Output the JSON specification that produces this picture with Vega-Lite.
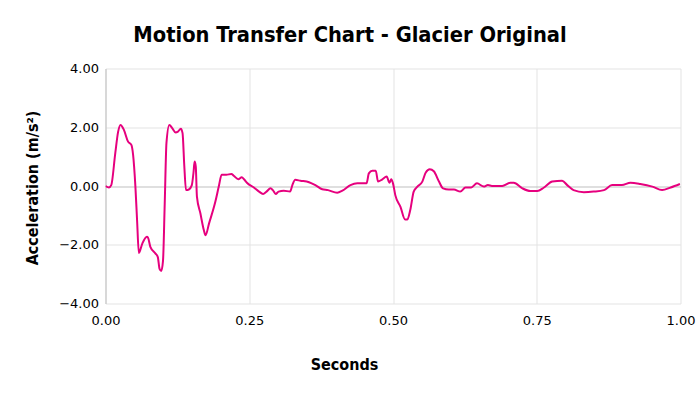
{
  "$schema": "https://vega.github.io/schema/vega-lite/v6.json",
  "width": 575,
  "height": 235,
  "autosize": {"type": "none"},
  "padding": {"left": 105.5, "top": 68.5, "right": 19.5, "bottom": 90.5},
  "background": "white",
  "title": {
    "text": "Motion Transfer Chart - Glacier Original",
    "font": "DejaVu Sans Condensed",
    "fontSize": 21.7,
    "fontWeight": "bold",
    "color": "#000000",
    "anchor": "middle",
    "dx": -43,
    "offset": 16
  },
  "config": {
    "view": {"stroke": null},
    "axis": {
      "labelFont": "DejaVu Sans",
      "labelFontSize": 13,
      "labelColor": "#000000",
      "titleFont": "DejaVu Sans Condensed",
      "titleFontSize": 16,
      "titleFontWeight": "bold",
      "titleColor": "#000000",
      "ticks": false,
      "gridColor": "#e3e3e3",
      "gridWidth": 1
    }
  },
  "data": {
    "values": [
      {"t": 0.000, "a": 0.00},
      {"t": 0.006, "a": -0.05},
      {"t": 0.010, "a": 0.03},
      {"t": 0.017, "a": 1.12},
      {"t": 0.022, "a": 1.85},
      {"t": 0.026, "a": 2.08},
      {"t": 0.032, "a": 1.91},
      {"t": 0.039, "a": 1.52},
      {"t": 0.045, "a": 1.40},
      {"t": 0.048, "a": 1.06},
      {"t": 0.052, "a": -0.02},
      {"t": 0.055, "a": -1.2},
      {"t": 0.058, "a": -2.28},
      {"t": 0.064, "a": -1.96},
      {"t": 0.072, "a": -1.73},
      {"t": 0.074, "a": -1.76},
      {"t": 0.078, "a": -2.07},
      {"t": 0.087, "a": -2.30},
      {"t": 0.091, "a": -2.42},
      {"t": 0.094, "a": -2.82},
      {"t": 0.097, "a": -2.89},
      {"t": 0.100, "a": -2.55},
      {"t": 0.103, "a": -0.6},
      {"t": 0.106, "a": 1.46},
      {"t": 0.111, "a": 2.08},
      {"t": 0.116, "a": 1.97},
      {"t": 0.122, "a": 1.82},
      {"t": 0.126, "a": 1.85},
      {"t": 0.131, "a": 1.95},
      {"t": 0.134, "a": 1.80},
      {"t": 0.137, "a": 0.7},
      {"t": 0.140, "a": -0.14},
      {"t": 0.145, "a": -0.12},
      {"t": 0.150, "a": 0.02},
      {"t": 0.153, "a": 0.45},
      {"t": 0.155, "a": 0.83},
      {"t": 0.157, "a": 0.66},
      {"t": 0.159, "a": -0.36},
      {"t": 0.165, "a": -0.93},
      {"t": 0.171, "a": -1.5},
      {"t": 0.174, "a": -1.68},
      {"t": 0.180, "a": -1.28},
      {"t": 0.191, "a": -0.54},
      {"t": 0.197, "a": -0.02},
      {"t": 0.202, "a": 0.38},
      {"t": 0.210, "a": 0.38},
      {"t": 0.219, "a": 0.41},
      {"t": 0.223, "a": 0.35},
      {"t": 0.231, "a": 0.23},
      {"t": 0.237, "a": 0.30},
      {"t": 0.241, "a": 0.23},
      {"t": 0.246, "a": 0.11},
      {"t": 0.258, "a": -0.05},
      {"t": 0.267, "a": -0.19},
      {"t": 0.274, "a": -0.27},
      {"t": 0.280, "a": -0.19},
      {"t": 0.287, "a": -0.08},
      {"t": 0.291, "a": -0.14},
      {"t": 0.296, "a": -0.27},
      {"t": 0.301, "a": -0.19},
      {"t": 0.310, "a": -0.16},
      {"t": 0.321, "a": -0.19},
      {"t": 0.325, "a": 0.03},
      {"t": 0.330, "a": 0.21},
      {"t": 0.339, "a": 0.18},
      {"t": 0.354, "a": 0.13},
      {"t": 0.365, "a": 0.03},
      {"t": 0.377, "a": -0.11},
      {"t": 0.387, "a": -0.14},
      {"t": 0.403, "a": -0.23},
      {"t": 0.412, "a": -0.16},
      {"t": 0.426, "a": 0.03},
      {"t": 0.438, "a": 0.09},
      {"t": 0.454, "a": 0.09},
      {"t": 0.458, "a": 0.43},
      {"t": 0.464, "a": 0.52},
      {"t": 0.470, "a": 0.52},
      {"t": 0.474, "a": 0.15},
      {"t": 0.481, "a": 0.22},
      {"t": 0.489, "a": 0.32},
      {"t": 0.494, "a": 0.11},
      {"t": 0.497, "a": 0.23},
      {"t": 0.500, "a": 0.09},
      {"t": 0.504, "a": -0.31},
      {"t": 0.513, "a": -0.71},
      {"t": 0.521, "a": -1.14},
      {"t": 0.525, "a": -1.14},
      {"t": 0.530, "a": -0.82},
      {"t": 0.536, "a": -0.19},
      {"t": 0.542, "a": -0.03},
      {"t": 0.551, "a": 0.15},
      {"t": 0.557, "a": 0.46},
      {"t": 0.564, "a": 0.57},
      {"t": 0.571, "a": 0.50},
      {"t": 0.580, "a": 0.15},
      {"t": 0.587, "a": -0.08},
      {"t": 0.597, "a": -0.12},
      {"t": 0.606, "a": -0.12},
      {"t": 0.617, "a": -0.19},
      {"t": 0.626, "a": -0.05},
      {"t": 0.636, "a": -0.05},
      {"t": 0.646, "a": 0.09},
      {"t": 0.658, "a": -0.02},
      {"t": 0.665, "a": 0.03},
      {"t": 0.672, "a": 0.00},
      {"t": 0.690, "a": 0.00},
      {"t": 0.704, "a": 0.11},
      {"t": 0.710, "a": 0.11},
      {"t": 0.725, "a": -0.08},
      {"t": 0.739, "a": -0.17},
      {"t": 0.751, "a": -0.17},
      {"t": 0.762, "a": -0.06},
      {"t": 0.777, "a": 0.15},
      {"t": 0.794, "a": 0.18},
      {"t": 0.803, "a": 0.03},
      {"t": 0.814, "a": -0.14},
      {"t": 0.832, "a": -0.21},
      {"t": 0.849, "a": -0.19},
      {"t": 0.867, "a": -0.14},
      {"t": 0.881, "a": 0.03},
      {"t": 0.898, "a": 0.03},
      {"t": 0.913, "a": 0.11},
      {"t": 0.930, "a": 0.07},
      {"t": 0.951, "a": -0.02},
      {"t": 0.968, "a": -0.14},
      {"t": 0.983, "a": -0.05},
      {"t": 0.999, "a": 0.07}
    ]
  },
  "mark": {"type": "line", "color": "#e6007e", "strokeWidth": 2, "interpolate": "monotone", "clip": true},
  "encoding": {
    "x": {
      "field": "t",
      "type": "quantitative",
      "scale": {"domain": [0, 1], "nice": false, "zero": false},
      "axis": {
        "title": "Seconds",
        "values": [0, 0.25, 0.5, 0.75, 1],
        "format": ".2f",
        "domain": false,
        "labelPadding": 11,
        "labelFlush": false,
        "titleX": 238.5,
        "titleY": 66,
        "titleBaseline": "alphabetic",
        "titleAnchor": null
      }
    },
    "y": {
      "field": "a",
      "type": "quantitative",
      "scale": {"domain": [-4, 4], "nice": false},
      "axis": {
        "title": "Acceleration (m/s²)",
        "values": [-4, -2, 0, 2, 4],
        "format": ".2f",
        "domain": true,
        "domainColor": "#bfbfbf",
        "labelPadding": 7,
        "gridColor": {"condition": {"test": "datum.value === 0", "value": "#bfbfbf"}, "value": "#e3e3e3"},
        "titleAngle": -90,
        "titleX": -73.5,
        "titleY": 119,
        "titleAlign": "center",
        "titleBaseline": "middle"
      }
    }
  }
}
